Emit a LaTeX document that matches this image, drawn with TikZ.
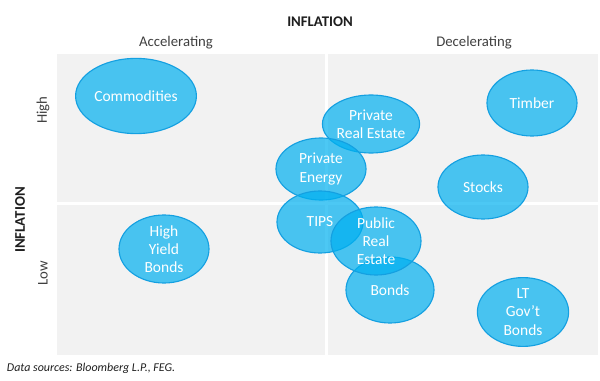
\documentclass[tikz,border=0pt]{standalone}
\usepackage{fontspec}
\setmainfont{Carlito}
\usepackage{tikz}
\definecolor{panelbg}{RGB}{242, 242, 242}
\definecolor{bubble}{RGB}{0, 176, 240}
\definecolor{bubbleline}{RGB}{20, 160, 225}
\definecolor{darktext}{RGB}{30, 30, 30}
\definecolor{softtext}{RGB}{64, 64, 64}
\usetikzlibrary{shapes.geometric, positioning}

\tikzset{
    panel/.style={fill=panelbg, draw=none},
    asset/.style={ellipse, draw=bubbleline, line width=0.8pt, fill=bubble,
        fill opacity=0.7, text opacity=1, text=white, inner sep=0pt,
        align=center, font=\fontsize{11}{13}\selectfont},
    axistitle/.style={font=\bfseries\fontsize{10.5}{12}\selectfont, text=darktext},
    axislabel/.style={font=\fontsize{10.5}{12}\selectfont, text=softtext}
}

\begin{document}
\begin{tikzpicture}[x=0.025cm, y=-0.025cm]
    \useasboundingbox (0,0) rectangle (600,381);

    % quadrants
    \fill[panel] (57,54) rectangle (324.5,202.5);
    \fill[panel] (328,54) rectangle (598,202.5);
    \fill[panel] (57,205.5) rectangle (324.5,355);
    \fill[panel] (328,205.5) rectangle (598,355);

    % axis labels
    \node[axistitle] (toptitle) at (320,22) {INFLATION};
    \node[axislabel] (accel) at (176,43) {Accelerating};
    \node[axislabel] (decel) at (474,43) {Decelerating};
    \node[axistitle, rotate=90] (sidetitle) at (20,220) {INFLATION};
    \node[axislabel, rotate=90] (high) at (43,110) {High};
    \node[axislabel, rotate=90] (low) at (43,273) {Low};

    % assets
    \node[asset, minimum width=3.02cm, minimum height=1.88cm] (commodities) at (136,96) {Commodities};
    \node[asset, minimum width=2.25cm, minimum height=1.65cm] (timber) at (532,103) {Timber};
    \node[asset, minimum width=2.4cm, minimum height=1.45cm] (privre) at (371,124) {Private\\Real Estate};
    \node[asset, minimum width=2.25cm, minimum height=1.55cm] (privenergy) at (321,169) {Private\\Energy};
    \node[asset, minimum width=2.25cm, minimum height=1.6cm] (stocks) at (483,187) {Stocks};
    \node[asset, minimum width=2.15cm, minimum height=1.55cm] (tips) at (320,222) {TIPS};
    \node[asset, minimum width=2.2cm, minimum height=1.65cm] (bonds) at (390,290) {Bonds};
    \node[asset, minimum width=2.25cm, minimum height=1.7cm] (publicre) at (376,241) {Public\\Real\\Estate};
    \node[asset, minimum width=2.25cm, minimum height=1.7cm] (highyield) at (164,249) {High\\Yield\\Bonds};
    \node[asset, minimum width=2.28cm, minimum height=1.72cm] (ltgov) at (523,312) {LT\\Gov’t\\Bonds};

    % source
    \node[anchor=west, font=\itshape\fontsize{8.5}{10}\selectfont, text=darktext] (source) at (2,368) {Data sources: Bloomberg L.P., FEG.};
\end{tikzpicture}
\end{document}
